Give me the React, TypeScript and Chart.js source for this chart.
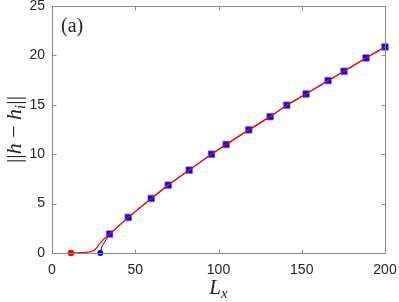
import React, { useEffect, useRef } from "react";
import { Chart, registerables } from "chart.js";

Chart.register(...registerables);

// Blue squares (simulation points)
const squareLx = [34.6, 45.8, 59.6, 69.8, 82.4, 95.8, 104.6, 118.2, 131, 141, 152.6, 165.8, 175.4, 188.6, 200];
const squareNorm = [1.92, 3.6, 5.52, 6.87, 8.39, 10.0, 10.98, 12.46, 13.8, 14.96, 16.1, 17.45, 18.4, 19.74, 20.85];

// Red curve start (before joining squares)
const redStartLx = [11.4, 16, 20, 23, 25, 26.5, 28, 30.5];
const redStartNorm = [0, 0.02, 0.06, 0.14, 0.25, 0.45, 0.8, 1.3];

// Blue line start
const blueStartLx = [29, 30];
const blueStartNorm = [0, 0.67];

// Onset markers
const redDot = { x: 11.4, y: 0 };
const blueDot = { x: 29, y: 0 };

const xTicks = [0, 50, 100, 150, 200];
const yTicks = [0, 5, 10, 15, 20, 25];

const SERIF = "'Liberation Serif', 'Times New Roman', serif";
const SANS = "'Liberation Sans', Arial, sans-serif";

const pts = (xs: number[], ys: number[]) => xs.map((x, i) => ({ x, y: ys[i] }));

const boxPlugin = {
  id: "boxPlugin",
  afterDraw(chart: any) {
    const { ctx, chartArea: a, scales } = chart;
    const xs = scales.x, ys = scales.y;
    ctx.save();
    ctx.strokeStyle = "#8a8a8a";
    ctx.lineWidth = 1;
    const L = Math.round(a.left) + 0.5, R = Math.round(a.right) + 0.5;
    const T = Math.round(a.top) + 0.5, B = Math.round(a.bottom) + 0.5;
    ctx.strokeRect(L, T, R - L, B - T);
    const tl = 4;
    ctx.beginPath();
    xTicks.forEach((v) => {
      const px = Math.round(xs.getPixelForValue(v)) + 0.5;
      ctx.moveTo(px, B); ctx.lineTo(px, B - tl);
      ctx.moveTo(px, T); ctx.lineTo(px, T + tl);
    });
    yTicks.forEach((v) => {
      const py = Math.round(ys.getPixelForValue(v)) + 0.5;
      ctx.moveTo(L, py); ctx.lineTo(L + tl, py);
      ctx.moveTo(R, py); ctx.lineTo(R - tl, py);
    });
    ctx.stroke();

    ctx.fillStyle = "#262626";
    // (a) label
    ctx.font = `20px ${SERIF}`;
    ctx.textBaseline = "alphabetic";
    ctx.textAlign = "left";
    ctx.fillText("(a)", a.left + 9, a.top + 26);

    // x title: L_x
    const cx = (a.left + a.right) / 2;
    const pieceX = [
      { t: "L", f: `italic 21px ${SERIF}`, dy: 0 },
      { t: "x", f: `italic 15px ${SERIF}`, dy: 4 },
    ];
    let tw = 0;
    pieceX.forEach((p) => { ctx.font = p.f; tw += ctx.measureText(p.t).width; });
    let x0 = cx - tw / 2;
    const by = 294;
    pieceX.forEach((p) => {
      ctx.font = p.f;
      ctx.fillText(p.t, x0, by + p.dy);
      x0 += ctx.measureText(p.t).width;
    });

    // y title: ||h − h_i||
    const cy = (a.top + a.bottom) / 2;
    ctx.save();
    ctx.translate(21, cy);
    ctx.rotate(-Math.PI / 2);
    const pieces = [
      { t: "||", f: `22px ${SERIF}`, dy: 0 },
      { t: "h", f: `italic 22px ${SERIF}`, dy: 0 },
      { t: " − ", f: `22px ${SERIF}`, dy: 0 },
      { t: "h", f: `italic 22px ${SERIF}`, dy: 0 },
      { t: "i", f: `italic 15px ${SERIF}`, dy: 4 },
      { t: "||", f: `22px ${SERIF}`, dy: 0 },
    ];
    let w = 0;
    pieces.forEach((p) => { ctx.font = p.f; w += ctx.measureText(p.t).width; });
    let px0 = -w / 2;
    pieces.forEach((p) => {
      ctx.font = p.f;
      ctx.fillText(p.t, px0, 0 + p.dy);
      px0 += ctx.measureText(p.t).width;
    });
    ctx.restore();
    ctx.restore();
  },
};

export default function App() {
  const ref = useRef<HTMLCanvasElement>(null);
  useEffect(() => {
    document.body.style.margin = "0";
    const canvas = ref.current!;
    const chart = new Chart(canvas, {
      type: "scatter",
      data: {
        datasets: [
          {
            label: "red curve",
            data: pts([...redStartLx, ...squareLx], [...redStartNorm, ...squareNorm]),
            showLine: true,
            borderColor: "#ff0000",
            borderWidth: 1.3,
            pointRadius: 0,
            cubicInterpolationMode: "monotone",
            clip: false,
            order: 0,
          } as any,
          {
            label: "blue line",
            data: pts([...blueStartLx, ...squareLx], [...blueStartNorm, ...squareNorm]),
            showLine: true,
            borderColor: "#0000ff",
            borderWidth: 1,
            pointRadius: 0,
            clip: false,
            order: 3,
          } as any,
          {
            label: "squares",
            data: pts(squareLx, squareNorm),
            showLine: false,
            pointStyle: "rect",
            pointRadius: 4.6,
            backgroundColor: "#0000ff",
            borderColor: "rgba(90,90,255,0.7)",
            borderWidth: 1,
            clip: false,
            order: 2,
          } as any,
          {
            label: "red dot",
            data: [redDot],
            showLine: false,
            pointRadius: 3.3,
            backgroundColor: "#ff0000",
            borderColor: "#ff0000",
            borderWidth: 0,
            clip: false,
            order: 0,
          } as any,
          {
            label: "blue dot",
            data: [blueDot],
            showLine: false,
            pointRadius: 3,
            backgroundColor: "#0000ff",
            borderColor: "#0000ff",
            borderWidth: 0,
            clip: false,
            order: 0,
          } as any,
        ],
      },
      options: {
        animation: false,
        responsive: false,
        events: [],
        layout: { padding: { top: 6, right: 14, left: 0, bottom: 0 } },
        plugins: { legend: { display: false }, tooltip: { enabled: false } },
        scales: {
          x: {
            type: "linear",
            min: 0,
            max: 200,
            afterBuildTicks: (s: any) => { s.ticks = xTicks.map((v) => ({ value: v })); },
            afterFit: (s: any) => { s.height = 49; s.paddingLeft = 0; s.paddingRight = 0; },
            grid: { display: false, drawTicks: false },
            border: { display: false },
            ticks: { color: "#262626", font: { family: SANS, size: 14 }, padding: 9, maxRotation: 0 },
          },
          y: {
            type: "linear",
            min: 0,
            max: 25,
            afterBuildTicks: (s: any) => { s.ticks = yTicks.map((v) => ({ value: v })); },
            afterFit: (s: any) => { s.width = 52; s.paddingTop = 0; s.paddingBottom = 0; },
            grid: { display: false, drawTicks: false },
            border: { display: false },
            ticks: { color: "#262626", font: { family: SANS, size: 14 }, padding: 7 },
          },
        },
      },
      plugins: [boxPlugin],
    });
    return () => chart.destroy();
  }, []);
  return <canvas ref={ref} width={399} height={302} style={{ display: "block" }} />;
}
